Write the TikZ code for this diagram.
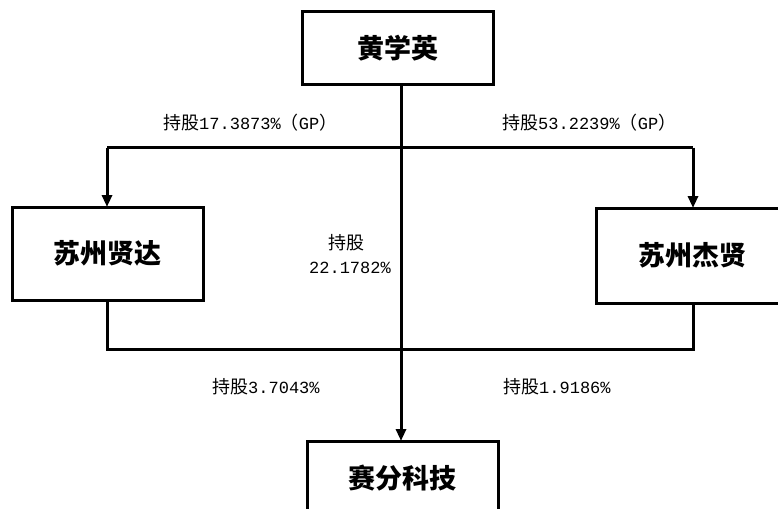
\documentclass[tikz,border=0pt]{standalone}
\usepackage{fontspec}
\newfontfamily\cjk{Noto Sans CJK SC}
\setmonofont{Liberation Mono}
\usetikzlibrary{arrows.meta}
\tikzset{
  box/.style={draw, line width=3pt, minimum width=#1, inner sep=0pt},
  box/.default=191pt,
  nmtext/.style={font=\cjk\bfseries\fontsize{27}{30}\selectfont},
  lbl/.style={font=\cjk\fontsize{18}{22}\selectfont, inner sep=0pt},
  conn/.style={line width=3pt},
  arr/.style={conn, -{Triangle[width=10pt,length=12pt]}}
}
\newcommand{\num}[1]{{\ttfamily\fontsize{17}{20}\selectfont #1}}
\begin{document}
\begin{tikzpicture}[x=1pt,y=-1pt]
\useasboundingbox (0,0) rectangle (778,508);
\fill[white] (0,0) rectangle (778,508);
% boxes
\node[box, minimum height=73pt, nmtext] (hxy) at (398,48.5) {黄学英};
\node[box, minimum height=93pt, nmtext] (sxd) at (107.5,253.5) {苏州贤达};
\node[box=192pt, minimum height=95pt, nmtext] (sjx) at (692,255.5) {苏州杰贤};
\node[box, minimum height=110pt] (sfkj) at (402.5,496) {};
\node[nmtext] (sfkjt) at (402.5,478) {赛分科技};
% junction coordinates
\coordinate (top) at (401,85);
\coordinate (l1) at (107,147.5);
\coordinate (r1) at (693,147.5);
\coordinate (sxdt) at (107,207);
\coordinate (sjxt) at (693,208);
\coordinate (sxdb) at (107,300);
\coordinate (sjxb) at (693,303);
\coordinate (l2) at (107,349);
\coordinate (r2) at (693,349);
\coordinate (sfkjtop) at (401,441);
% connectors
\draw[conn] (l1) -- (r1);
\draw[arr] (l1) -- (sxdt);
\draw[arr] (r1) -- (sjxt);
\draw[arr] (top) -- (sfkjtop);
\draw[conn] (sxdb) -- (l2) -- (r2) -- (sjxb);
% labels
\node[lbl, anchor=west] (a) at (163,123) {持股\num{17.3873\%}（\num{GP}）};
\node[lbl, anchor=west] (b) at (502,123) {持股\num{53.2239\%}（\num{GP}）};
\node[lbl] (c) at (346,243) {持股};
\node[lbl] (d) at (350,268) {\num{22.1782\%}};
\node[lbl, anchor=west] (e) at (212,387) {持股\num{3.7043\%}};
\node[lbl, anchor=west] (f) at (503,387) {持股\num{1.9186\%}};
\end{tikzpicture}
\end{document}
